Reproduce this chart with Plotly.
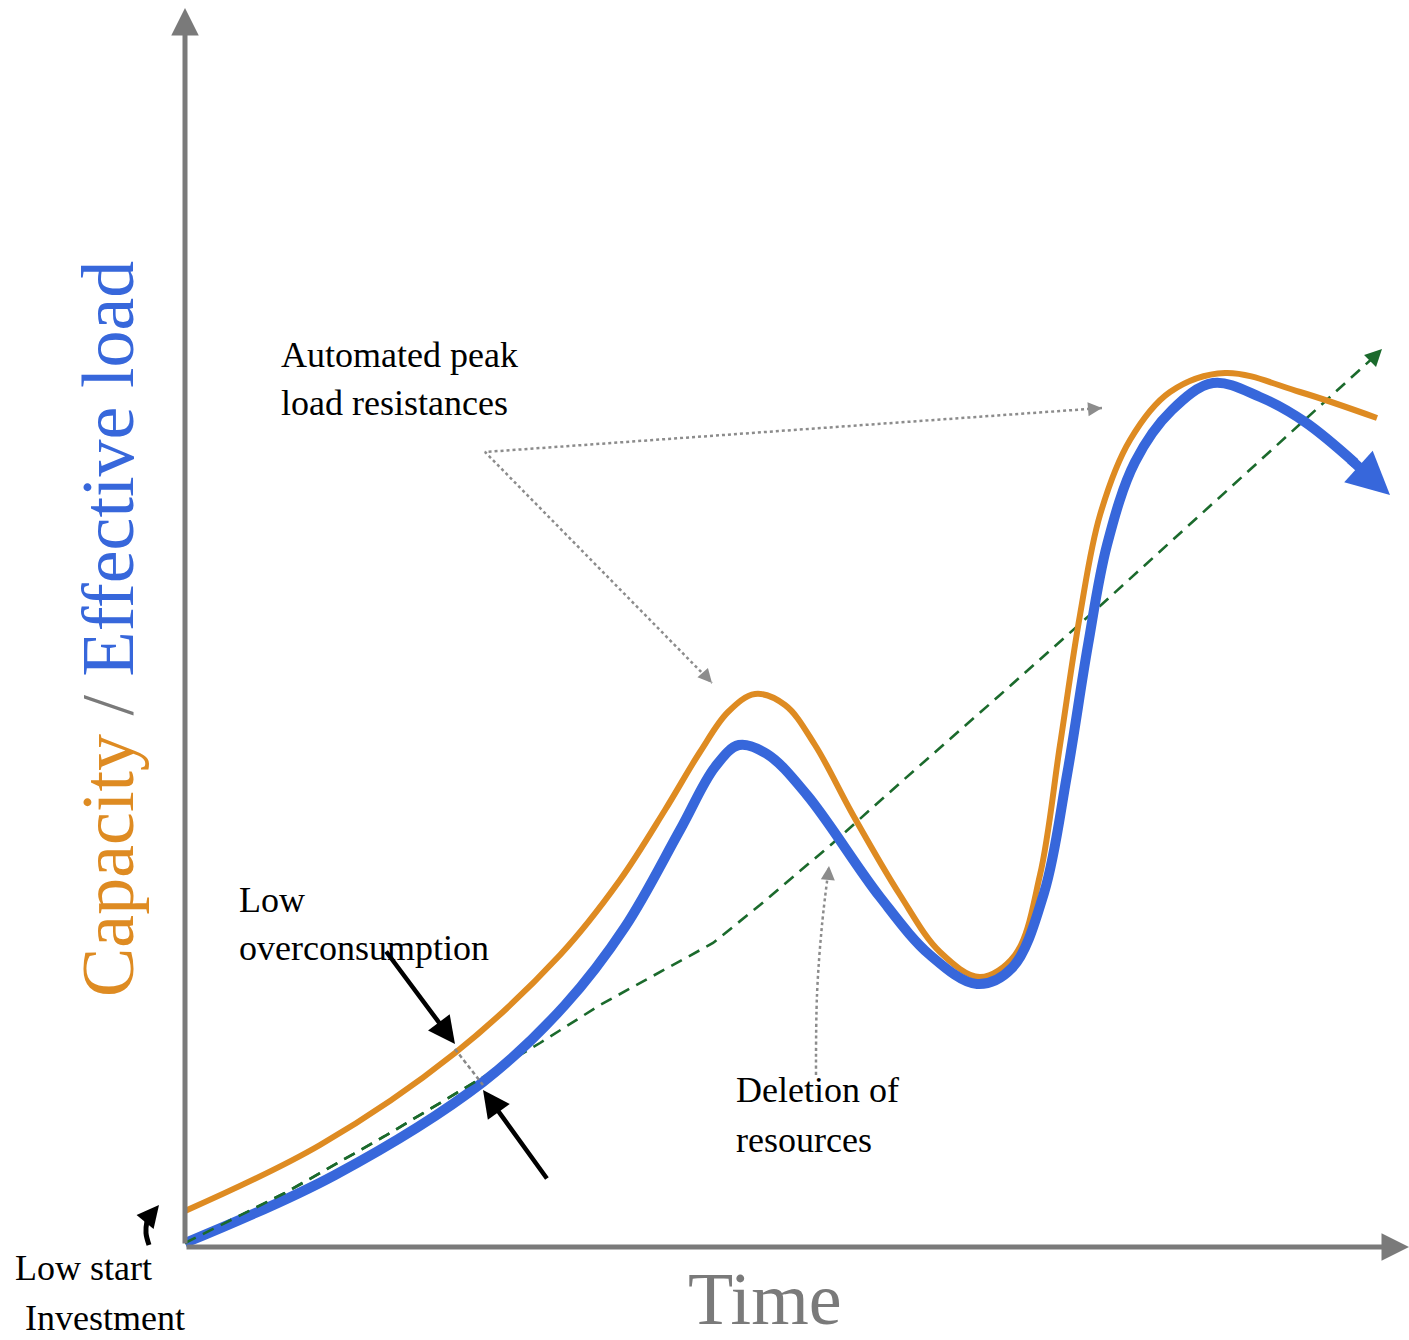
import plotly.graph_objects as go

# Coordinates: time (t) and level (L) measured from the axis origin
cap_t = [0, 135, 270, 375, 435, 480, 515, 543, 570, 600, 630, 668, 715, 755, 795, 830, 855, 875, 895, 915,
         945, 985, 1040, 1115, 1192]
cap_L = [34, 100, 192, 290, 365, 435, 493, 533, 551, 540, 500, 430, 350, 293, 268, 290, 370, 500, 630, 730,
         805, 853, 872, 853, 827]

load_t = [0, 150, 298, 380, 440, 495, 530, 554, 582, 622, 695, 745, 792, 827, 859, 882, 903, 922,
          950, 987, 1028, 1075, 1120, 1170]
load_L = [2, 70, 163, 240, 318, 415, 478, 500, 491, 450, 348, 290, 261, 277, 352, 470, 600, 700,
          783, 835, 862, 848, 823, 782]
load_tip = (1205, 750)

trend_t = [0, 100, 200, 295, 355, 415, 475, 528, 575, 648, 715, 815, 915, 1015, 1115, 1190]
trend_L = [2, 52, 109, 166, 202, 240, 273, 302, 340, 402, 462, 550, 639, 730, 820, 889]
trend_tip = (1197, 896)

ORANGE = "#DE8B22"
BLUE = "#3767DB"
GREEN = "#1B6A2C"
GRAY = "#7A7A7A"
DOT = "#8C8C8C"
FONT = "Liberation Serif"

fig = go.Figure()

# trend (dashed green)
fig.add_trace(go.Scatter(x=trend_t, y=trend_L, mode="lines",
                         line=dict(color=GREEN, width=2.6, dash="12px,8px")))
# capacity
fig.add_trace(go.Scatter(x=cap_t, y=cap_L, mode="lines",
                         line=dict(color=ORANGE, width=6, shape="spline", smoothing=1.0)))
# effective load
fig.add_trace(go.Scatter(x=load_t, y=load_L, mode="lines",
                         line=dict(color=BLUE, width=10, shape="spline", smoothing=1.0)))
# start of the trend drawn on top of the blue line
fig.add_trace(go.Scatter(x=trend_t[:4], y=trend_L[:4], mode="lines",
                         line=dict(color=GREEN, width=2.6, dash="12px,8px")))

# dotted pointer lines
ptr_src = (300, 793)
ptr_a = (917, 837)
ptr_b = (527, 562)
del_src = (631, 170)
del_dst = (644, 379)
fig.add_trace(go.Scatter(x=[ptr_a[0], ptr_src[0], ptr_b[0]], y=[ptr_a[1], ptr_src[1], ptr_b[1]],
                         mode="lines", line=dict(color=DOT, width=2.5, dash="dot")))
fig.add_trace(go.Scatter(x=[del_src[0], 632, 637, del_dst[0]], y=[del_src[1], 250, 320, del_dst[1]],
                         mode="lines", line=dict(color=DOT, width=2.5, dash="dot", shape="spline")))

# gap marker between curves
gap_t = [270, 298]
gap_L = [196, 160]
fig.add_trace(go.Scatter(x=gap_t, y=gap_L, mode="lines",
                         line=dict(color="#888888", width=2.5, dash="4px,3px")))

# hook mark near the start
fig.add_trace(go.Scatter(x=[-36, -39, -38, -36], y=[0, 12, 24, 30], mode="lines",
                         line=dict(color="black", width=5, shape="spline")))

ann = []

def arrow(tip, tail, color, width, size, head=2):
    ann.append(dict(x=tip[0], y=tip[1], ax=tail[0], ay=tail[1], xref="x", yref="y",
                    axref="x", ayref="y", showarrow=True, arrowhead=head,
                    arrowsize=size, arrowwidth=width, arrowcolor=color, text="", standoff=0))

# axes
arrow((0, 1237), (0, 0), GRAY, 5, 1.1)
arrow((1224, -2), (0, -2), GRAY, 5, 1.1)
# load curve head (tail placed slightly back on the curve)
arrow(load_tip, (load_t[-1] - 6, load_L[-1] + 5), BLUE, 10, 0.85)
# trend head
arrow(trend_tip, (trend_t[-1], trend_L[-1]), GREEN, 2.6, 1.3)
# dotted pointer heads
arrow(ptr_a, (ptr_a[0] - 12, ptr_a[1] - 1), DOT, 2, 1.4)
arrow(ptr_b, (ptr_b[0] - 8, ptr_b[1] + 9), DOT, 2, 1.4)
arrow(del_dst, (del_dst[0] - 1, del_dst[1] - 12), DOT, 2, 1.4)
# black pointer arrows
arrow((270, 201), (200, 295), "black", 4.5, 1.2)
arrow((298, 155), (363, 65), "black", 4.5, 1.2)
# hook head
arrow((-26, 40), (-35, 29), "black", 4, 1.1)

def label(x, y, text, size=36, color="black", xanchor="left", angle=0):
    ann.append(dict(x=x, y=y, xref="x", yref="y", text=text, showarrow=False,
                    xanchor=xanchor, yanchor="middle", textangle=angle,
                    font=dict(family=FONT, size=size, color=color)))

label(94, 890, "Automated peak")
label(94, 842, "load resistances")
label(52, 345, "Low")
label(52, 297, "overconsumption")
label(549, 155, "Deletion of")
label(549, 105, "resources")
label(-172, -23, "Low start")
label(-162, -73, "Investment")
label(580, -54, "Time", size=74, color=GRAY, xanchor="center")
label(-77, 616,
      f'<span style="color:{ORANGE}">Capacity</span>'
      f'<span style="color:{GRAY}"> / </span>'
      f'<span style="color:{BLUE}">Effective load</span>',
      size=74, xanchor="center", angle=-90)

fig.update_layout(
    width=1409, height=1340,
    margin=dict(l=0, r=0, t=0, b=0),
    paper_bgcolor="white", plot_bgcolor="white",
    showlegend=False,
    xaxis=dict(range=[-185, 1224], visible=False, fixedrange=True),
    yaxis=dict(range=[-95, 1245], visible=False, fixedrange=True),
    annotations=ann,
)

fig.write_html("out.html", config={"displayModeBar": False},
               post_script="document.body.style.margin='0';")
